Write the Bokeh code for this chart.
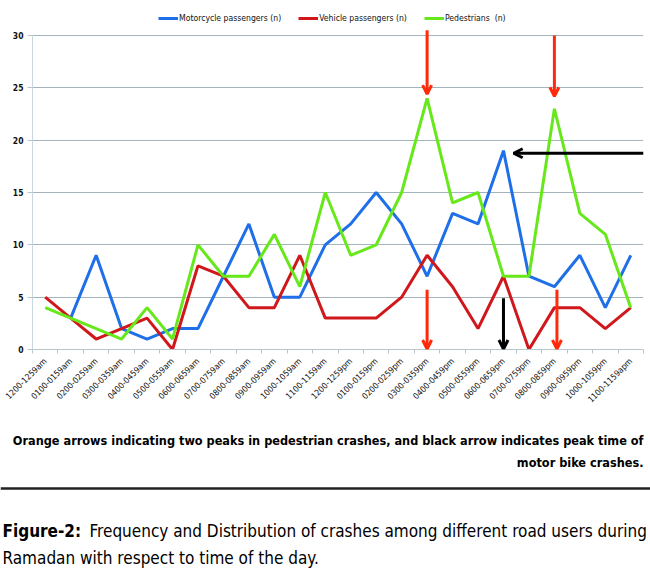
import math
from bokeh.plotting import figure
from bokeh.models import (Range1d, FixedTicker, Legend, LegendItem, Arrow, OpenHead,
                          ColumnDataSource)
from bokeh.core.properties import value
from bokeh.embed import file_html
from bokeh.resources import INLINE

# ---------------- data ----------------
time_labels = ["1200-1259am", "0100-0159am", "0200-0259am", "0300-0359am", "0400-0459am",
               "0500-0559am", "0600-0659am", "0700-0759am", "0800-0859am", "0900-0959am",
               "1000-1059am", "1100-1159am", "1200-1259pm", "0100-0159pm", "0200-0259pm",
               "0300-0359pm", "0400-0459pm", "0500-0559pm", "0600-0659pm", "0700-0759pm",
               "0800-0859pm", "0900-0959pm", "1000-1059pm", "1100-1159apm"]
motorcycle = [float("nan"), 3, 9, 2, 1, 2, 2, 7, 12, 5, 5, 10, 12, 15, 12, 7, 13, 12, 19, 7, 6, 9, 4, 9]
vehicle = [5, 3, 1, 2, 3, 0, 8, 7, 4, 4, 9, 3, 3, 3, 5, 9, 6, 2, 7, 0, 4, 4, 2, 4]
pedestrians = [4, 3, 2, 1, 4, 1, 10, 7, 7, 11, 6, 15, 9, 10, 15, 24, 14, 15, 7, 7, 23, 13, 11, 4]
series_names = ["Motorcycle passengers (n)", "Vehicle passengers (n)", "Pedestrians  (n)"]
y_ticks = [0, 5, 10, 15, 20, 25, 30]
y_max = 30

BLUE = "#1F6FE8"
RED = "#D0181C"
GREEN = "#66E81A"
ARROW_RED = "#FF2A0A"
GRID = "#A3B4BC"
FONT = "DejaVu Sans Condensed"

idx = list(range(len(time_labels)))

# frame: top 8px, data area for 0..30 spans 314px, extra headroom 27px for the legend
FRAME_H = 341
p = figure(width=650, height=420, x_range=Range1d(-0.5, len(time_labels) - 0.5),
           y_range=Range1d(0, y_max * FRAME_H / 314.0), output_backend="svg",
           toolbar_location=None,
           min_border_left=32, min_border_right=7, min_border_top=8, min_border_bottom=71)
p.outline_line_color = None
p.background_fill_color = "white"
p.border_fill_color = "white"
p.xgrid.grid_line_color = None
p.ygrid.grid_line_color = GRID
p.ygrid.grid_line_width = 1.2

# axes
p.xaxis.ticker = FixedTicker(ticks=idx, minor_ticks=[i - 0.5 for i in range(len(time_labels) + 1)])
p.xaxis.major_label_overrides = {i: lab for i, lab in enumerate(time_labels)}
p.xaxis.major_label_orientation = math.pi / 4
p.xaxis.major_tick_line_color = None
p.xaxis.minor_tick_in = 0
p.xaxis.minor_tick_out = 4
p.xaxis.minor_tick_line_color = "#B8C6CC"
p.xaxis.axis_line_color = "#B8C6CC"
p.xaxis.major_label_text_font = FONT
p.xaxis.major_label_text_font_size = "8.5px"
p.xaxis.major_label_text_color = "#111111"
p.xaxis.major_label_standoff = 4

p.yaxis.ticker = FixedTicker(ticks=y_ticks)
p.yaxis.bounds = (0, y_max)
p.yaxis.minor_tick_line_color = None
p.yaxis.major_tick_in = 0
p.yaxis.major_tick_out = 5
p.yaxis.major_tick_line_color = "#B8C6CC"
p.yaxis.axis_line_color = "#C8D8DE"
p.yaxis.major_label_text_font = FONT
p.yaxis.major_label_text_font_style = "bold"
p.yaxis.major_label_text_font_size = "8.5px"
p.yaxis.major_label_text_color = "#111111"
p.yaxis.major_label_standoff = 4

src = ColumnDataSource(dict(x=idx, moto=motorcycle, veh=vehicle, ped=pedestrians))
r1 = p.line("x", "moto", source=src, line_color=BLUE, line_width=3)
r2 = p.line("x", "veh", source=src, line_color=RED, line_width=3)
r3 = p.line("x", "ped", source=src, line_color=GREEN, line_width=3)

legend = Legend(items=[LegendItem(label=series_names[0], renderers=[r1]),
                       LegendItem(label=series_names[1], renderers=[r2]),
                       LegendItem(label=series_names[2], renderers=[r3])],
                orientation="horizontal", location=(126, FRAME_H - 15),
                label_text_font=FONT, label_text_font_size="8.6px",
                label_text_color="#111111", glyph_width=20, glyph_height=10,
                label_standoff=1, spacing=17, padding=2, margin=0,
                label_height=10, border_line_color=None, background_fill_alpha=0)
p.add_layout(legend)

# arrows: pedestrian peaks (orange/red) and motorcycle peak (black)
ped_sorted = sorted(idx, key=lambda i: pedestrians[i], reverse=True)
ped_peaks = sorted(ped_sorted[:2])
moto_peak = max(idx[1:], key=lambda i: motorcycle[i])

for k, pk in enumerate(ped_peaks):
    p.add_layout(Arrow(end=OpenHead(line_color=ARROW_RED, line_width=3, size=9),
                       x_start=pk, y_start=30.5 - k * 0.5, x_end=pk,
                       y_end=pedestrians[pk] + 0.4 + k * 0.8,
                       line_color=ARROW_RED, line_width=3))
    p.add_layout(Arrow(end=OpenHead(line_color=ARROW_RED, line_width=3, size=9),
                       x_start=pk + k * 0.1, y_start=5.7, x_end=pk + k * 0.1, y_end=0.05,
                       line_color=ARROW_RED, line_width=3))
p.add_layout(Arrow(end=OpenHead(line_color="black", line_width=3, size=9),
                   x_start=moto_peak, y_start=4.9, x_end=moto_peak, y_end=0.05,
                   line_color="black", line_width=3))
p.add_layout(Arrow(end=OpenHead(line_color="black", line_width=3, size=9),
                   x_start=len(time_labels) - 0.5, y_start=motorcycle[moto_peak] - 0.25,
                   x_end=moto_peak + 0.4, y_end=motorcycle[moto_peak] - 0.25,
                   line_color="black", line_width=3))

# ---------------- caption panel (separate root, so its frame spans the full width) ----------------
c = figure(width=650, height=163, x_range=Range1d(0, 650), y_range=Range1d(583, 420),
           output_backend="svg", toolbar_location=None,
           x_axis_location=None, y_axis_location=None,
           min_border_left=0, min_border_right=0, min_border_top=0, min_border_bottom=0)
c.grid.grid_line_color = None
c.outline_line_color = None

c.text(x=[643], y=[440], text=["Orange arrows indicating two peaks in pedestrian crashes, and black arrow indicates peak time of"],
       text_font=value(FONT), text_font_style="bold", text_font_size="12.6px",
       text_align="right", text_baseline="middle", text_color="black")
c.text(x=[643], y=[462], text=["motor bike crashes."],
       text_font=value(FONT), text_font_style="bold", text_font_size="12.6px",
       text_align="right", text_baseline="middle", text_color="black")
c.segment(x0=[0], y0=[488], x1=[650], y1=[488], line_color="#222222", line_width=2.5)
c.text(x=[2], y=[530], text=["Figure-2:"],
       text_font=value(FONT), text_font_style="bold", text_font_size="17px",
       text_align="left", text_baseline="middle", text_color="black")
c.text(x=[89], y=[530], text=["Frequency and Distribution of crashes among different road users during"],
       text_font=value(FONT), text_font_size="17px",
       text_align="left", text_baseline="middle", text_color="black")
c.text(x=[2], y=[557], text=["Ramadan with respect to time of the day."],
       text_font=value(FONT), text_font_size="17px",
       text_align="left", text_baseline="middle", text_color="black")

open("out.html", "w").write(file_html([p, c], INLINE))
